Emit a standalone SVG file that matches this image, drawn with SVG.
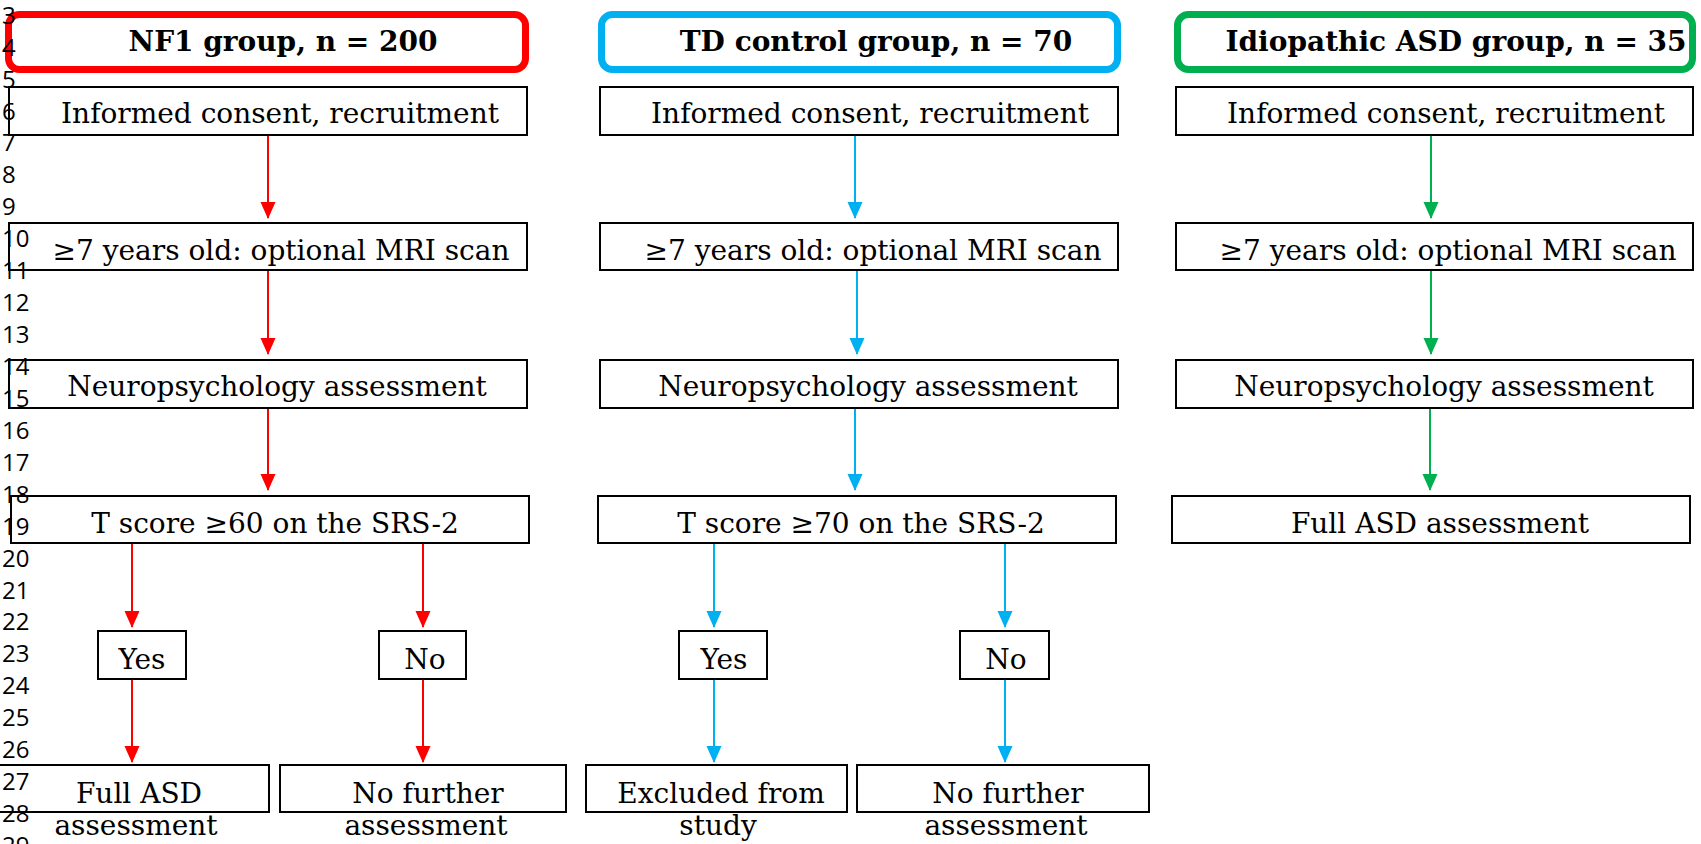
<svg xmlns="http://www.w3.org/2000/svg" width="1701" height="844" viewBox="0 0 1701 844">
<style>
.bg{fill:#fff}
.box{fill:none;stroke:#000;stroke-width:2}
.tb{fill:#fff;stroke-width:7}
.t{font-family:"DejaVu Serif",serif;font-size:28px;fill:#000;text-anchor:middle}
.h{font-family:"DejaVu Serif",serif;font-size:28px;font-weight:bold;fill:#000;text-anchor:middle}
.ln{font-family:"Open Sans",sans-serif;font-size:24px;fill:#000}
.r{stroke:#FF0000;stroke-width:2;fill:none}
.b{stroke:#00B0F0;stroke-width:2;fill:none}
.g{stroke:#00B050;stroke-width:2;fill:none}
</style>
<defs>
<marker id="ar" markerUnits="userSpaceOnUse" markerWidth="16" markerHeight="17" viewBox="0 0 16 17" refX="8" refY="16" orient="0"><path d="M0.5,0 L15.5,0 L8,17 Z" fill="#FF0000"/></marker>
<marker id="ab" markerUnits="userSpaceOnUse" markerWidth="16" markerHeight="17" viewBox="0 0 16 17" refX="8" refY="16" orient="0"><path d="M0.5,0 L15.5,0 L8,17 Z" fill="#00B0F0"/></marker>
<marker id="ag" markerUnits="userSpaceOnUse" markerWidth="16" markerHeight="17" viewBox="0 0 16 17" refX="8" refY="16" orient="0"><path d="M0.5,0 L15.5,0 L8,17 Z" fill="#00B050"/></marker>
</defs>
<rect class="bg" x="0" y="0" width="1701" height="844"/>

<g id="connectors">
<line class="r" x1="268" y1="135" x2="268" y2="218" marker-end="url(#ar)"/>
<line class="r" x1="268" y1="270" x2="268" y2="354" marker-end="url(#ar)"/>
<line class="r" x1="268" y1="408" x2="268" y2="490" marker-end="url(#ar)"/>
<line class="r" x1="132" y1="543" x2="132" y2="627" marker-end="url(#ar)"/>
<line class="r" x1="423" y1="543" x2="423" y2="627" marker-end="url(#ar)"/>
<line class="r" x1="132" y1="679" x2="132" y2="762" marker-end="url(#ar)"/>
<line class="r" x1="423" y1="679" x2="423" y2="762" marker-end="url(#ar)"/>
<line class="b" x1="855" y1="135" x2="855" y2="218" marker-end="url(#ab)"/>
<line class="b" x1="857" y1="270" x2="857" y2="354" marker-end="url(#ab)"/>
<line class="b" x1="855" y1="408" x2="855" y2="490" marker-end="url(#ab)"/>
<line class="b" x1="714" y1="543" x2="714" y2="627" marker-end="url(#ab)"/>
<line class="b" x1="1005" y1="543" x2="1005" y2="627" marker-end="url(#ab)"/>
<line class="b" x1="714" y1="679" x2="714" y2="762" marker-end="url(#ab)"/>
<line class="b" x1="1005" y1="679" x2="1005" y2="762" marker-end="url(#ab)"/>
<line class="g" x1="1431" y1="135" x2="1431" y2="218" marker-end="url(#ag)"/>
<line class="g" x1="1431" y1="270" x2="1431" y2="354" marker-end="url(#ag)"/>
<line class="g" x1="1430" y1="408" x2="1430" y2="490" marker-end="url(#ag)"/>
</g>

<g id="nf1-title"><rect class="tb" x="8.5" y="14.5" width="517" height="55" rx="11" stroke="#FF0000"/><text class="h" x="283" y="51">NF1 group, n = 200</text></g>
<g id="nf1-consent"><rect class="box" x="9" y="87" width="518" height="48"/><text class="t" x="280" y="123">Informed consent, recruitment</text></g>
<g id="nf1-mri"><rect class="box" x="9" y="223" width="518" height="47"/><text class="t" x="281" y="260">≥7 years old: optional MRI scan</text></g>
<g id="nf1-neuro"><rect class="box" x="9" y="360" width="518" height="48"/><text class="t" x="277" y="396">Neuropsychology assessment</text></g>
<g id="nf1-tscore"><rect class="box" x="11" y="496" width="518" height="47"/><text class="t" x="275" y="533">T score ≥60 on the SRS-2</text></g>
<g id="nf1-yes"><rect class="box" x="98" y="631" width="88" height="48"/><text class="t" x="142" y="669">Yes</text></g>
<g id="nf1-no"><rect class="box" x="379" y="631" width="87" height="48"/><text class="t" x="425" y="669">No</text></g>
<g id="nf1-full"><rect class="box" x="-2" y="765" width="271" height="47"/><text class="t" x="139" y="803">Full ASD</text><text class="t" x="136" y="835">assessment</text></g>
<g id="nf1-nofurther"><rect class="box" x="280" y="765" width="286" height="47"/><text class="t" x="428" y="803">No further</text><text class="t" x="426" y="835">assessment</text></g>

<g id="td-title"><rect class="tb" x="601.5" y="14.5" width="516" height="55" rx="11" stroke="#00B0F0"/><text class="h" x="876" y="51">TD control group, n = 70</text></g>
<g id="td-consent"><rect class="box" x="600" y="87" width="518" height="48"/><text class="t" x="870" y="123">Informed consent, recruitment</text></g>
<g id="td-mri"><rect class="box" x="600" y="223" width="518" height="47"/><text class="t" x="873" y="260">≥7 years old: optional MRI scan</text></g>
<g id="td-neuro"><rect class="box" x="600" y="360" width="518" height="48"/><text class="t" x="868" y="396">Neuropsychology assessment</text></g>
<g id="td-tscore"><rect class="box" x="598" y="496" width="518" height="47"/><text class="t" x="861" y="533">T score ≥70 on the SRS-2</text></g>
<g id="td-yes"><rect class="box" x="679" y="631" width="88" height="48"/><text class="t" x="724" y="669">Yes</text></g>
<g id="td-no"><rect class="box" x="960" y="631" width="89" height="48"/><text class="t" x="1006" y="669">No</text></g>
<g id="td-excluded"><rect class="box" x="586" y="765" width="261" height="47"/><text class="t" x="721" y="803">Excluded from</text><text class="t" x="718" y="835">study</text></g>
<g id="td-nofurther"><rect class="box" x="857" y="765" width="292" height="47"/><text class="t" x="1008" y="803">No further</text><text class="t" x="1006" y="835">assessment</text></g>

<g id="asd-title"><rect class="tb" x="1177.5" y="14.5" width="515" height="55" rx="11" stroke="#00B050"/><text class="h" x="1456" y="51">Idiopathic ASD group, n = 35</text></g>
<g id="asd-consent"><rect class="box" x="1176" y="87" width="517" height="48"/><text class="t" x="1446" y="123">Informed consent, recruitment</text></g>
<g id="asd-mri"><rect class="box" x="1176" y="223" width="517" height="47"/><text class="t" x="1448" y="260">≥7 years old: optional MRI scan</text></g>
<g id="asd-neuro"><rect class="box" x="1176" y="360" width="517" height="48"/><text class="t" x="1444" y="396">Neuropsychology assessment</text></g>
<g id="asd-full"><rect class="box" x="1172" y="496" width="518" height="47"/><text class="t" x="1440" y="533">Full ASD assessment</text></g>

<g id="line-numbers" class="ln">
<text x="2" y="24">3</text>
<text x="2" y="56">4</text>
<text x="2" y="88">5</text>
<text x="2" y="120">6</text>
<text x="2" y="151">7</text>
<text x="2" y="183">8</text>
<text x="2" y="215">9</text>
<text x="2" y="247">10</text>
<text x="2" y="279">11</text>
<text x="2" y="311">12</text>
<text x="2" y="343">13</text>
<text x="2" y="375">14</text>
<text x="2" y="407">15</text>
<text x="2" y="439">16</text>
<text x="2" y="471">17</text>
<text x="2" y="503">18</text>
<text x="2" y="535">19</text>
<text x="2" y="567">20</text>
<text x="2" y="599">21</text>
<text x="2" y="630">22</text>
<text x="2" y="662">23</text>
<text x="2" y="694">24</text>
<text x="2" y="726">25</text>
<text x="2" y="758">26</text>
<text x="2" y="790">27</text>
<text x="2" y="822">28</text>
<text x="2" y="854">29</text>
</g>
</svg>
